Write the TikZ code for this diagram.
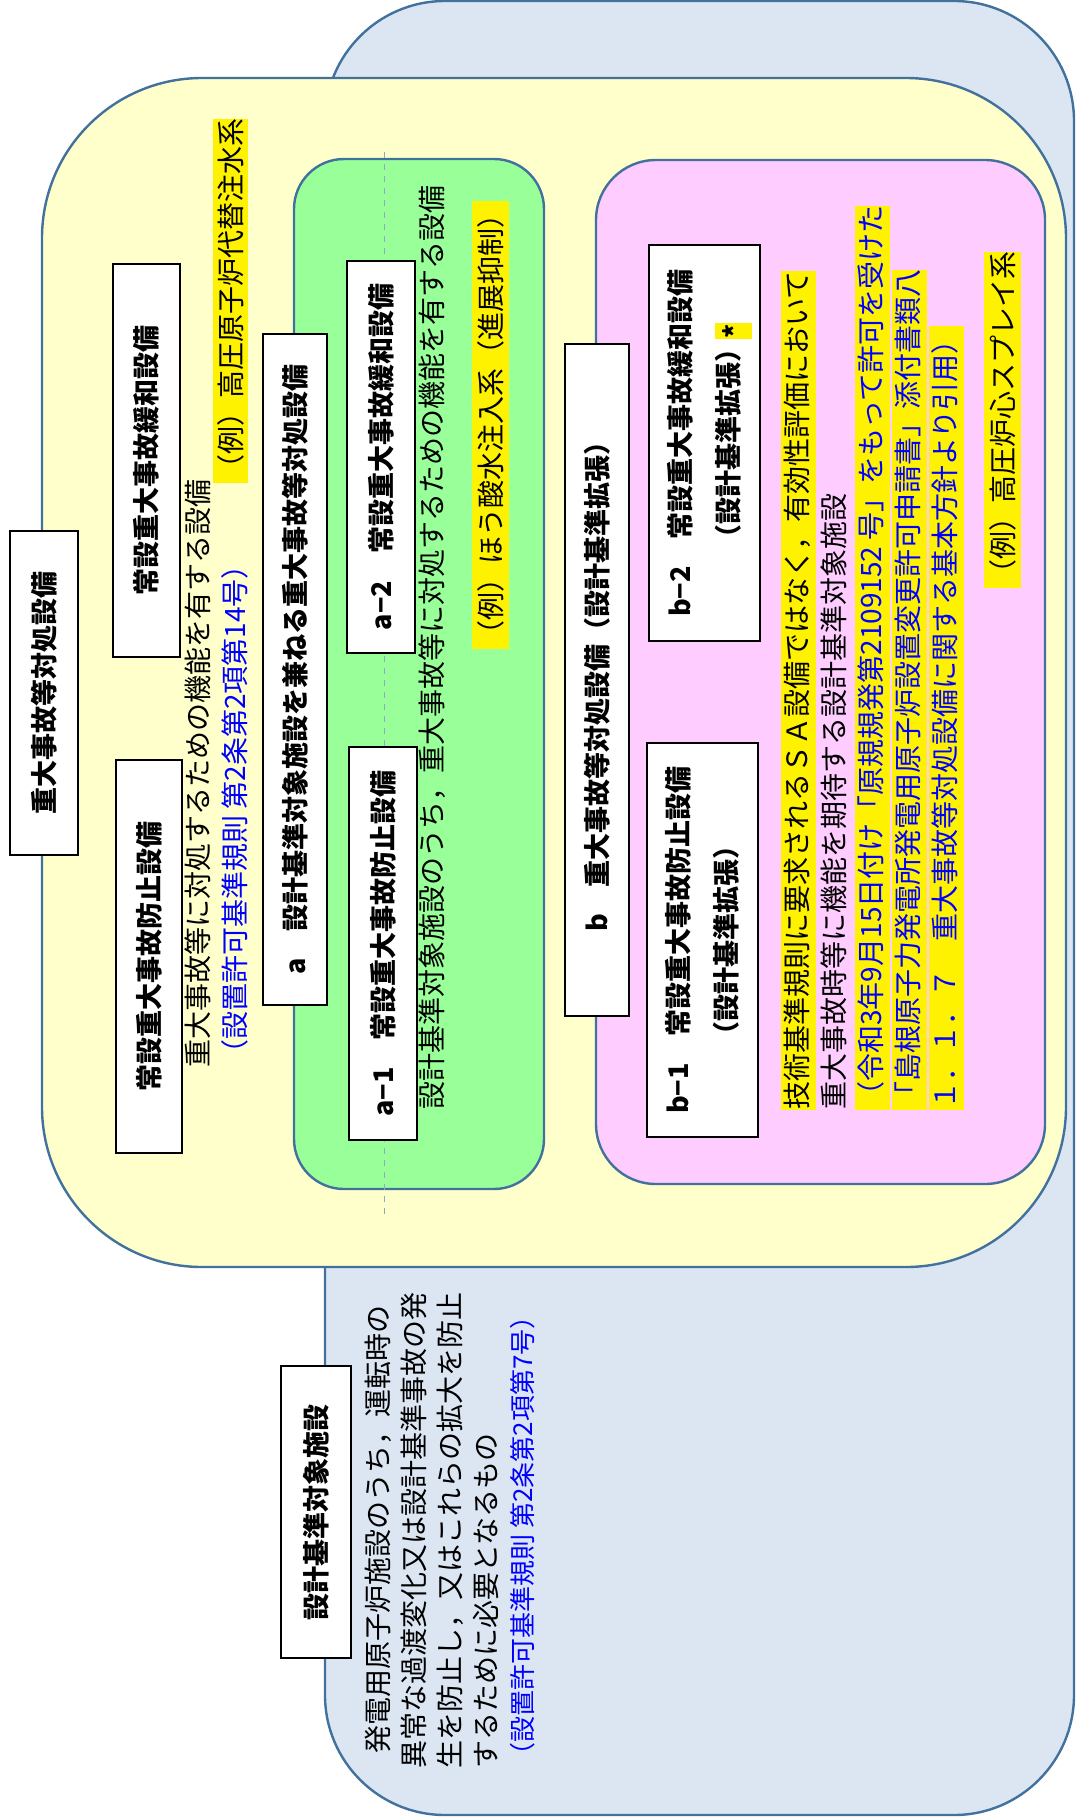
\documentclass[tikz,border=0pt]{standalone}
\usepackage{fontspec}
\setmainfont{Noto Sans CJK JP}
\usepackage{tikz}

\definecolor{regionline}{HTML}{41719C}
\definecolor{bgblue}{HTML}{DCE6F2}
\definecolor{bgyellow}{HTML}{FFFFCC}
\definecolor{bggreen}{HTML}{99FF99}
\definecolor{bgpink}{HTML}{FFCCFF}
\definecolor{refblue}{HTML}{0000FF}

\newcommand{\kijun}[1]{{\color{refblue}#1}}
\newcommand{\hilite}[1]{{\setlength{\fboxsep}{0pt}\colorbox{yellow}{\rule[-4.5pt]{0pt}{17.5pt}#1}}}

\begin{document}
\begin{tikzpicture}[x=0.5pt, y=-0.5pt,
	region/.style={draw=regionline, line width=1.2pt},
	titlebox/.style={draw=black, fill=white, line width=1pt, rotate=90, inner sep=0pt, align=center,
		font=\bfseries\fontsize{13.5}{24}\selectfont},
	bodytext/.style={rotate=90, anchor=west, inner sep=0pt, align=left, font=\fontsize{14}{18.5}\selectfont},
	exmark/.style={bodytext, fill=yellow, minimum height=18pt}]

	\useasboundingbox (0,0) rectangle (1076,1820);

	% Regions {design basis, SA, shared, extension}
	\draw [region, fill=bgblue, rounded corners=60pt]   (325,1)   rectangle (1074,1815);
	\draw [region, fill=bgyellow, rounded corners=80pt] (42,78)   rectangle (1066,1267);
	\draw [region, fill=bggreen, rounded corners=25pt]  (294,159) rectangle (544,1189);
	\draw [region, fill=bgpink, rounded corners=30pt]   (596,160) rectangle (1045,1184);

	\coordinate (guideTop) at (384,152);
	\coordinate (guideBot) at (384,1214);
	\draw [regionline!60, dashed, line width=0.4pt] (guideTop) -- (guideBot);

	% Nodes {title boxes}
	\node [titlebox, minimum width=162pt, minimum height=34pt]   (sa)    at (44,693)    {重大事故等対処設備};
	\node [titlebox, minimum width=196.5pt, minimum height=33pt] (prev)  at (149,956.5) {常設重大事故防止設備};
	\node [titlebox, minimum width=196.5pt, minimum height=33.5pt] (mit) at (146.5,460.5) {常設重大事故緩和設備};
	\node [titlebox, minimum width=335.5pt, minimum height=32pt] (boxA)  at (295,669.5) {a　設計基準対象施設を兼ねる重大事故等対処設備};
	\node [titlebox, minimum width=196.5pt, minimum height=34pt] (boxA1) at (383,943.5) {a−1　常設重大事故防止設備};
	\node [titlebox, minimum width=196pt, minimum height=34pt]   (boxA2) at (381,457)   {a−2　常設重大事故緩和設備};
	\node [titlebox, minimum width=336pt, minimum height=32pt]   (boxB)  at (597,680)   {b　重大事故等対処設備（設計基準拡張）};
	\node [titlebox, minimum width=197pt, minimum height=55.5pt] (boxB1) at (702.5,940) {b−1　常設重大事故防止設備\\（設計基準拡張）};
	\node [titlebox, minimum width=198pt, minimum height=55.5pt] (boxB2) at (704.5,443) {b−2　常設重大事故緩和設備\\（設計基準拡張）};
	\node [titlebox, minimum width=146pt, minimum height=35pt]   (db)    at (316,1512)  {設計基準対象施設};

	% Nodes {texts}
	\node [bodytext] (saText) at (217,1068)
	{重大事故等に対処するための機能を有する設備\\\kijun{（設置許可基準規則 第2条第2項第14号）}};
	\node [exmark, minimum height=17.5pt] (exHP) at (230.5,483) {（例）高圧原子炉代替注水系};

	\node [bodytext] (aText) at (432,1110)
	{設計基準対象施設のうち，重大事故等に対処するための機能を有する設備};
	\node [exmark, minimum height=18.5pt] (exBoric) at (490.5,649) {（例）ほう酸水注入系（進展抑制）};

	\node [titlebox, draw=none, fill=yellow, minimum width=8pt, minimum height=18.5pt] (star) at (733.5,331) {*};
	\node [bodytext] (bText) at (872.5,1110)
	{\hilite{技術基準規則に要求されるＳＡ設備ではなく，有効性評価において}\\
	 重大事故時等に機能を期待する設計基準対象施設\\
	 \hilite{\kijun{（令和3年9月15日付け「原規規発第2109152 号」をもって許可を受けた}}\\
	 \hilite{\kijun{「島根原子力発電所発電用原子炉設置変更許可申請書」添付書類八}}\\
	 \hilite{\kijun{１．１．７　重大事故等対処設備に関する基本方針より引用）}}};
	\node [exmark, minimum height=18.5pt] (exHPCS) at (1002.5,588) {（例）高圧炉心スプレイ系};

	\node [bodytext, font=\fontsize{14}{18}\selectfont] (dbText) at (449.5,1769)
	{\hspace*{7.5pt}発電用原子炉施設のうち，運転時の\\
	 異常な過渡変化又は設計基準事故の発\\
	 生を防止し，又はこれらの拡大を防止\\
	 するために必要となるもの\\
	 {\fontsize{13}{18}\selectfont\kijun{（設置許可基準規則 第2条第2項第7号）}}};

\end{tikzpicture}
\end{document}
